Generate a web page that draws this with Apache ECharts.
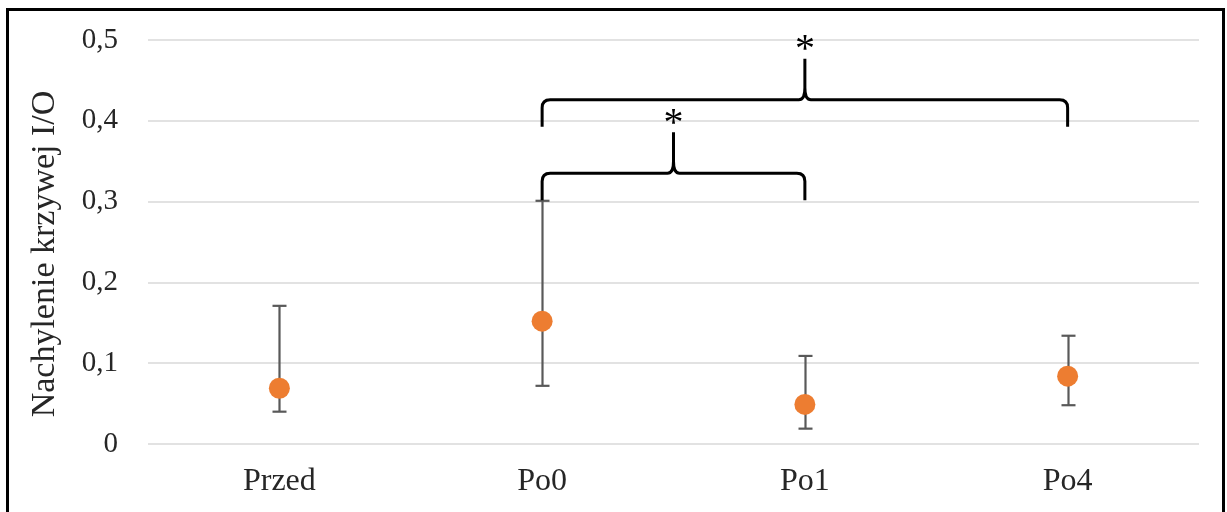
<!DOCTYPE html>
<html>
<head>
<meta charset="utf-8">
<script src="https://cdn.jsdelivr.net/npm/echarts@6/dist/echarts.min.js"></script>
<style>
  html, body { margin: 0; padding: 0; background: #fff; }
  #myChart { width: 1227px; height: 512px; }
</style>
</head>
<body>
<div id="myChart"></div>
<script>
// dane
var categories = ['Przed', 'Po0', 'Po1', 'Po4'];
var means = [0.069, 0.152, 0.049, 0.084];
var errUpper = [0.171, 0.301, 0.109, 0.134];
var errLower = [0.040, 0.072, 0.019, 0.048];

// klamry istotnosci: od kategorii, do kategorii, poziom poziomej linii
var bracketFrom = [1, 1];
var bracketTo = [2, 3];
var bracketLevel = [0.335, 0.426];
var bracketLabel = ['*', '*'];

var yTicks = { min: 0, max: 0.5, interval: 0.1 };

var serif = '"Liberation Serif", "Times New Roman", serif';
var myChart = echarts.init(document.getElementById('myChart'));

var errData = [];
for (var i = 0; i < categories.length; i++) {
    errData.push([i, errLower[i], errUpper[i]]);
}
var bracketData = [];
for (var j = 0; j < bracketFrom.length; j++) {
    bracketData.push([bracketFrom[j], bracketTo[j], bracketLevel[j]]);
}

function renderError(params, api) {
    var lo = api.coord([api.value(0), api.value(1)]);
    var hi = api.coord([api.value(0), api.value(2)]);
    var x = Math.round(lo[0]) + 0.5;
    var capW = 7;
    var st = { stroke: '#595959', lineWidth: 2.2 };
    return {
        type: 'group',
        children: [
            { type: 'line', shape: { x1: x, y1: hi[1], x2: x, y2: lo[1] }, style: st },
            { type: 'line', shape: { x1: x - capW, y1: hi[1], x2: x + capW, y2: hi[1] }, style: st },
            { type: 'line', shape: { x1: x - capW, y1: lo[1], x2: x + capW, y2: lo[1] }, style: st }
        ]
    };
}

function renderBracket(params, api) {
    var a = api.coord([api.value(0), api.value(2)]);
    var b = api.coord([api.value(1), api.value(2)]);
    var x1 = a[0], x2 = b[0], y = a[1];
    var xm = (x1 + x2) / 2;
    var drop = 27, peak = 41, r = 8, c = 6;
    var d = 'M' + x1 + ' ' + (y + drop) +
        ' L' + x1 + ' ' + (y + r) +
        ' Q' + x1 + ' ' + y + ' ' + (x1 + r) + ' ' + y +
        ' L' + (xm - c) + ' ' + y +
        ' Q' + xm + ' ' + y + ' ' + xm + ' ' + (y - c * 2) +
        ' L' + xm + ' ' + (y - peak) +
        ' M' + xm + ' ' + (y - c * 2) +
        ' Q' + xm + ' ' + y + ' ' + (xm + c) + ' ' + y +
        ' L' + (x2 - r) + ' ' + y +
        ' Q' + x2 + ' ' + y + ' ' + x2 + ' ' + (y + r) +
        ' L' + x2 + ' ' + (y + drop);
    return {
        type: 'group',
        children: [
            { type: 'path', shape: { pathData: d }, style: { fill: null, stroke: '#000', lineWidth: 3 } },
            {
                type: 'text',
                x: xm, y: y - peak - 8,
                style: {
                    text: bracketLabel[params.dataIndex],
                    font: '40px ' + serif,
                    fill: '#000',
                    align: 'center',
                    verticalAlign: 'middle'
                }
            }
        ]
    };
}

var option = {
    animation: false,
    backgroundColor: '#fff',
    graphic: [{
        type: 'rect',
        shape: { x: 7.5, y: 9.5, width: 1216, height: 530 },
        style: { fill: null, stroke: '#000', lineWidth: 3 },
        silent: true
    }],
    grid: { left: 148, right: 28, top: 40, bottom: 68 },
    xAxis: {
        type: 'category',
        data: categories,
        axisLine: { show: false },
        axisTick: { show: false },
        axisLabel: { color: '#262626', fontFamily: serif, fontSize: 32, margin: 22 }
    },
    yAxis: {
        type: 'value',
        min: yTicks.min,
        max: yTicks.max,
        interval: yTicks.interval,
        name: 'Nachylenie krzywej I/O',
        nameLocation: 'middle',
        nameGap: 86,
        nameTextStyle: { color: '#262626', fontFamily: serif, fontSize: 34, padding: [0, 24, 0, 0] },
        axisLine: { show: false },
        axisTick: { show: false },
        axisLabel: {
            color: '#262626', fontFamily: serif, fontSize: 29, margin: 30,
            formatter: function (v) { return String(Math.round(v * 10) / 10).replace('.', ','); }
        },
        splitLine: { lineStyle: { color: '#d9d9d9', width: 1.5 } }
    },
    series: [
        {
            name: 'err',
            type: 'custom',
            renderItem: renderError,
            data: errData,
            z: 2
        },
        {
            name: 'Nachylenie',
            type: 'scatter',
            data: means,
            symbolSize: 21,
            itemStyle: { color: '#ED7D31', opacity: 1 },
            z: 3
        },
        {
            name: 'klamry',
            type: 'custom',
            renderItem: renderBracket,
            data: bracketData,
            clip: false,
            z: 4
        }
    ]
};

myChart.setOption(option);
</script>
</body>
</html>
